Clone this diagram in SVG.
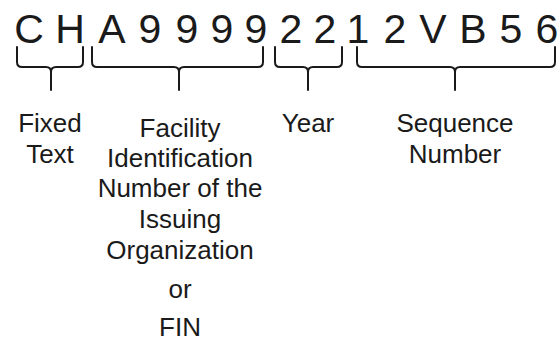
<svg xmlns="http://www.w3.org/2000/svg" width="560" height="341" viewBox="0 0 560 341">
<style>
.code{font-family:"Liberation Sans",Arial,sans-serif;font-size:41px;fill:#1a1a1a;text-anchor:middle}
.lbl{font-family:"Liberation Sans",Arial,sans-serif;font-size:26px;fill:#1a1a1a;text-anchor:middle}
.brace{fill:none;stroke:#1a1a1a;stroke-width:2;stroke-linejoin:round;stroke-linecap:round}
</style>
<rect width="560" height="341" fill="#fff"/>
<g id="code">
<text class="code" x="29 70 112 150 187 222 256 291 325 358 395 433 473 511 547" y="43">CHA99992212VB56</text>
</g>
<g id="connectors">
<path class="brace" d="M17 47V62Q17 67 22 67H46Q51 67 51 72V90M83 47V62Q83 67 78 67H56Q51 67 51 72"/>
<path class="brace" d="M92 47V62Q92 67 97 67H174Q179 67 179 72V90M263 47V62Q263 67 258 67H184Q179 67 179 72"/>
<path class="brace" d="M275 47V62Q275 67 280 67H303Q308 67 308 72V90M342 47V62Q342 67 337 67H313Q308 67 308 72"/>
<path class="brace" d="M357 47V62Q357 67 362 67H450Q455 67 455 72V90M555 47V62Q555 67 550 67H460Q455 67 455 72"/>
</g>
<g id="fixed-text">
<text class="lbl" x="50" y="132">Fixed</text>
<text class="lbl" x="50" y="163">Text</text>
</g>
<g id="facility">
<text class="lbl" x="180" y="137">Facility</text>
<text class="lbl" x="180" y="167">Identification</text>
<text class="lbl" x="180" y="197">Number of the</text>
<text class="lbl" x="180" y="228">Issuing</text>
<text class="lbl" x="180" y="259">Organization</text>
<text class="lbl" x="180" y="298">or</text>
<text class="lbl" x="180" y="336">FIN</text>
</g>
<g id="year">
<text class="lbl" x="308" y="132">Year</text>
</g>
<g id="sequence">
<text class="lbl" x="455" y="132">Sequence</text>
<text class="lbl" x="455" y="163">Number</text>
</g>
</svg>
